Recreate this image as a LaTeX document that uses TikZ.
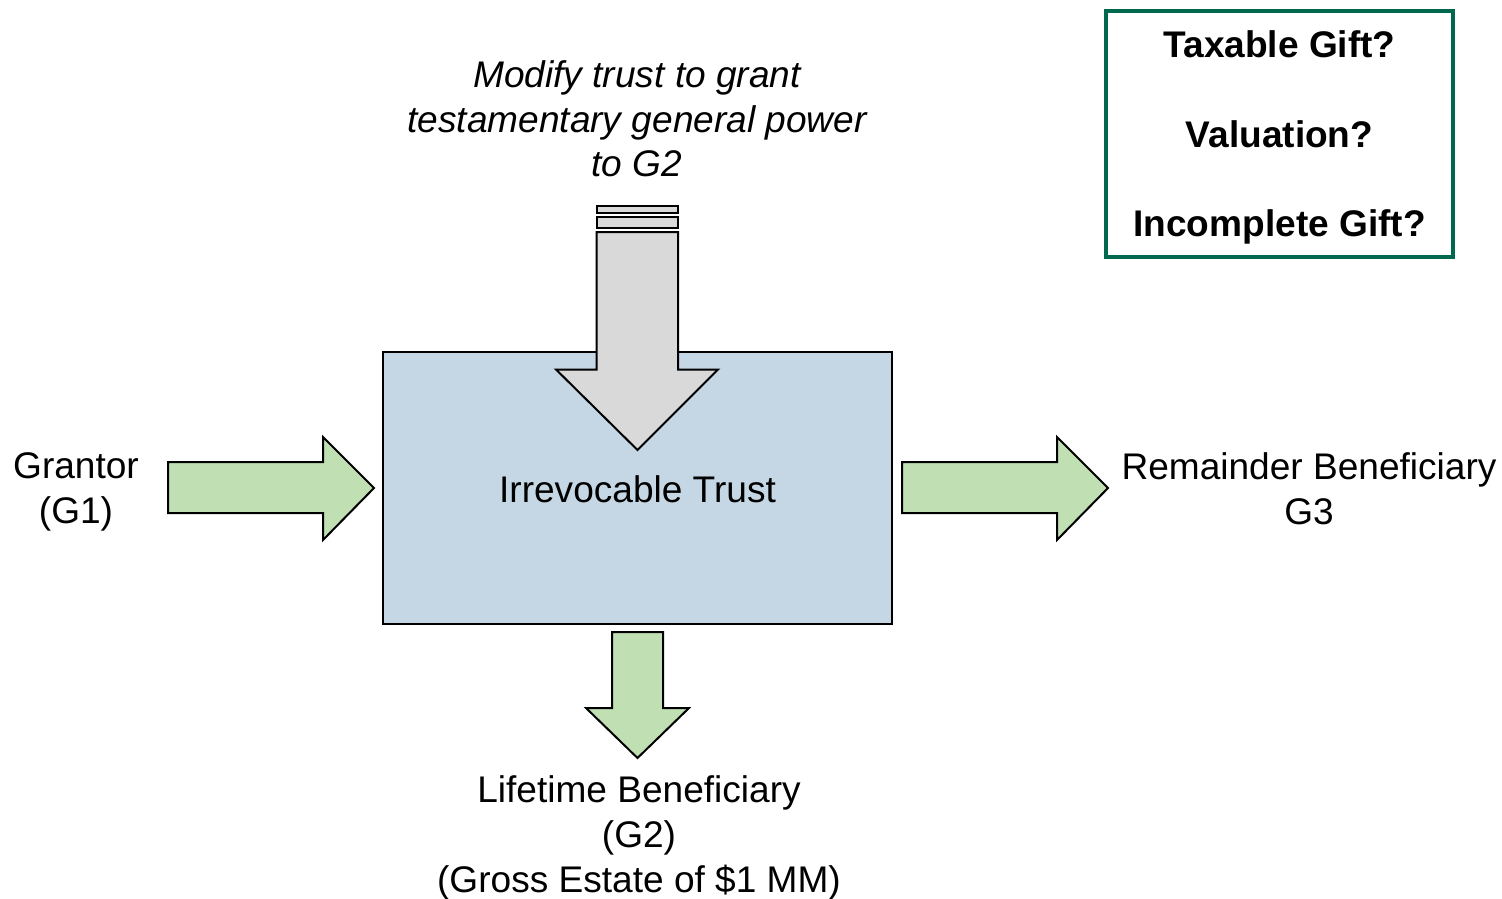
\documentclass[tikz,border=0pt]{standalone}
\usepackage{fontspec}
\setmainfont{Liberation Sans}
\definecolor{trustblue}{RGB}{197,215,229}
\definecolor{arrowgreen}{RGB}{192,223,179}
\definecolor{arrowgray}{RGB}{217,217,217}
\definecolor{boxgreen}{RGB}{0,104,78}
\begin{document}
\begin{tikzpicture}[x=0.75pt,y=-0.75pt,
  lbl/.style={font=\fontsize{27.8}{33.75}\selectfont, align=center, inner sep=0pt},
  blockarrow/.style={draw=black, line width=1.5pt, line join=miter},
  greenarrow/.style={blockarrow, fill=arrowgreen},
  grayarrow/.style={blockarrow, fill=arrowgray}]
\useasboundingbox (0,0) rectangle (1502,899);
% main trust box
\node[draw=black, line width=1.5pt, fill=trustblue, minimum width=381.75pt, minimum height=204pt, inner sep=0pt] (trust) at (637.5,488) {};
\node[lbl] (trustlbl) at (637.5,489) {Irrevocable Trust};
% left arrow
\draw[greenarrow] (168,462) -- (323,462) -- (323,437) -- (374,488) -- (323,540) -- (323,513) -- (168,513) -- cycle;
% right arrow
\draw[greenarrow] (902,462) -- (1057,462) -- (1057,437) -- (1108,488) -- (1057,540) -- (1057,513) -- (902,513) -- cycle;
% bottom arrow
\draw[greenarrow] (612,632) -- (663,632) -- (663,708) -- (689,708) -- (637.5,758) -- (586,708) -- (612,708) -- cycle;
% gray arrow
\draw[grayarrow] (596.5,206) rectangle (678,212.5);
\draw[grayarrow] (596.5,216.5) rectangle (678,228);
\draw[grayarrow] (596.5,232) -- (678,232) -- (678,369.5) -- (718,369.5) -- (637.5,450) -- (556,369.5) -- (596.5,369.5) -- cycle;
% labels
\node[lbl] (grantor) at (76,491.5) {Grantor\\(G1)};
\node[lbl] (remainder) at (1309,488.5) {Remainder Beneficiary\\G3};
\node[lbl, font=\fontsize{27.8}{33.2}\selectfont\itshape] (modify) at (637,119) {Modify trust to grant\\testamentary general power\\to G2};
\node[lbl] (lifetime) at (639,838) {Lifetime Beneficiary\\(G2)\\(Gross Estate of \$1 MM)};
% question box
\node[draw=boxgreen, line width=2.4pt, minimum width=260.25pt, minimum height=184.5pt, inner sep=0pt] (qbox) at (1279.5,134) {};
\node[lbl, font=\fontsize{27.8}{66.9}\selectfont\bfseries] (qtext) at (1279.5,137.5) {Taxable Gift?\\Valuation?\\Incomplete Gift?};
\end{tikzpicture}
\end{document}
